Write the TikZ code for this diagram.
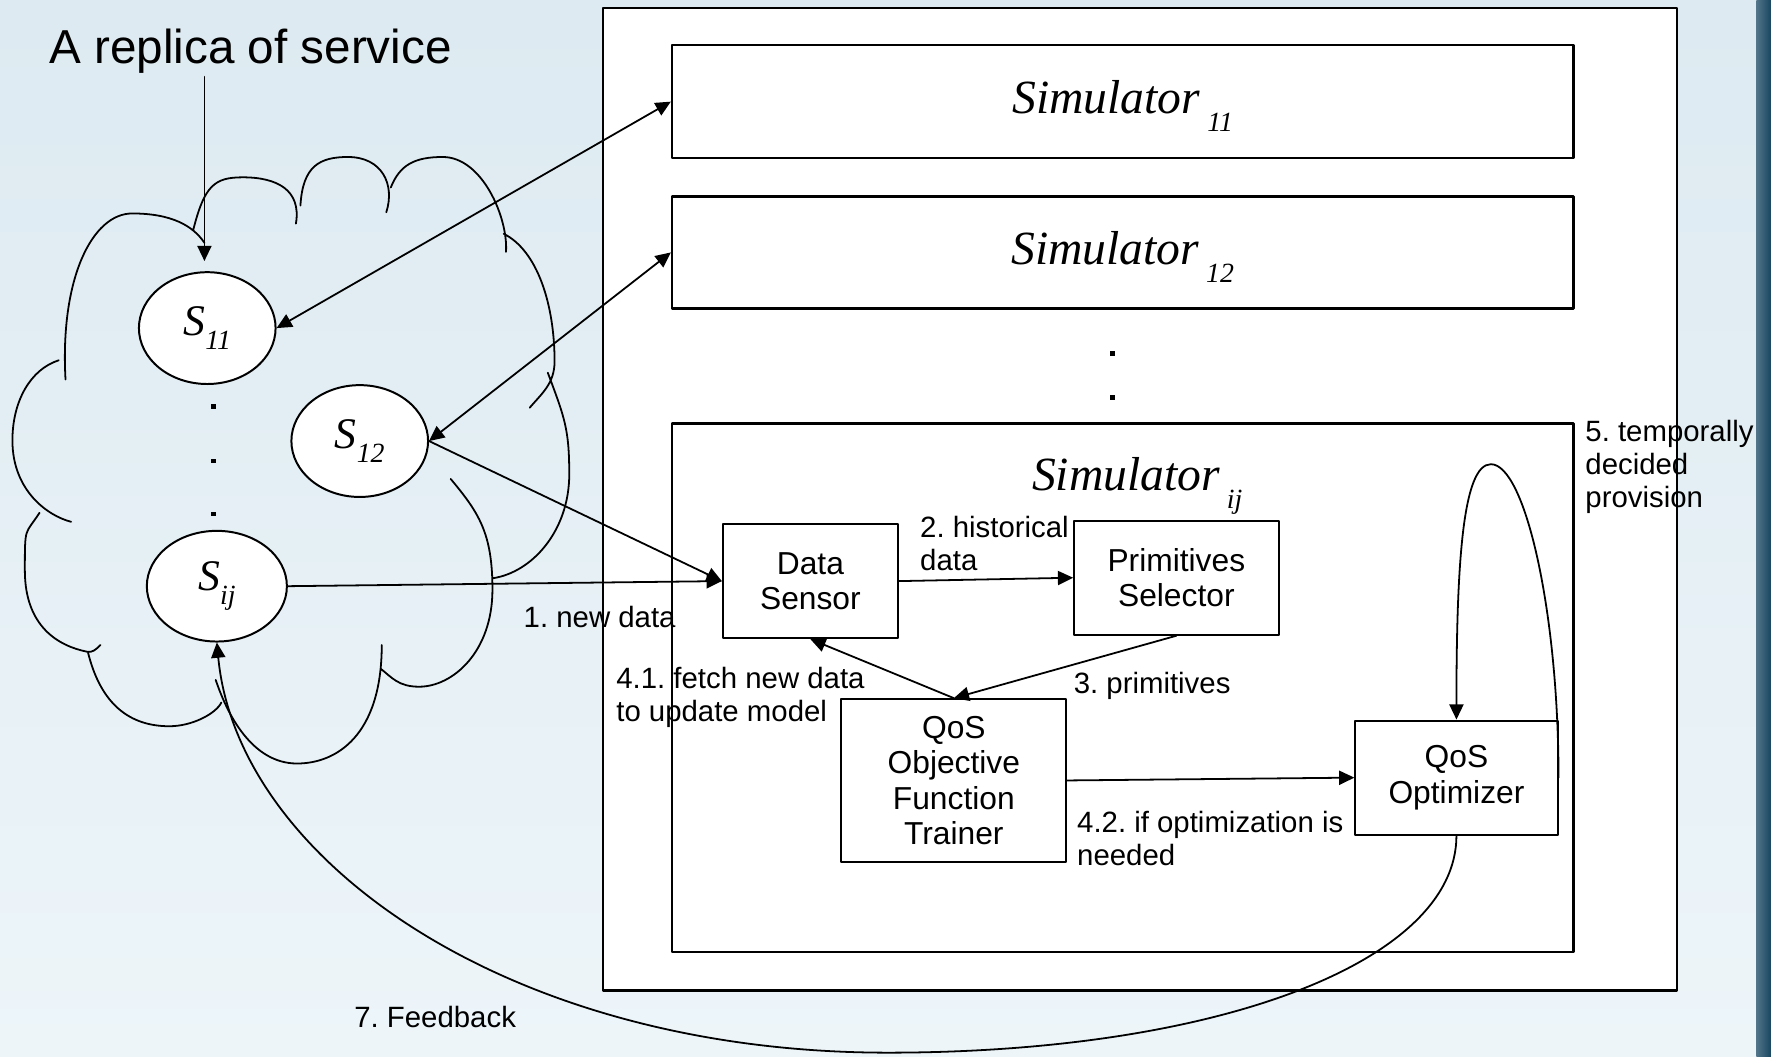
\documentclass[tikz,border=0pt]{standalone}
\usepackage{fontspec}
\setmainfont{Liberation Sans}
\newfontfamily\seriffam{Liberation Serif}
\usetikzlibrary{arrows.meta,shapes.geometric}
\frenchspacing

\definecolor{seatop}{RGB}{221,234,241}
\definecolor{seabottom}{RGB}{237,245,249}
\definecolor{edgeblue}{RGB}{24,70,97}

\newcommand{\boxfont}{\fontsize{8}{8.9}\selectfont}
\newcommand{\lblfont}{\fontsize{7.4}{8.3}\selectfont}
\newcommand{\simname}[1]{\vrule height 10.5pt width 0pt{\seriffam\itshape\fontsize{12}{14}\selectfont Simulator}\raisebox{-4.5pt}{\seriffam\itshape\fontsize{7}{8}\selectfont\ #1}}
\newcommand{\repname}[1]{{\seriffam\itshape\fontsize{11}{13}\selectfont S}\raisebox{-3.5pt}{\seriffam\itshape\fontsize{7}{8}\selectfont #1}}

\tikzset{
  simbox/.style={draw,fill=white,line width=.6pt,inner sep=0pt},
  compbox/.style={draw,fill=white,line width=.5pt,inner sep=0pt,align=center,font=\boxfont},
  replica/.style={ellipse,draw,fill=white,line width=.5pt,inner sep=0pt},
  lbl/.style={anchor=base west,align=left,inner sep=0pt,font=\lblfont},
  flow/.style={->,line width=.45pt},
  cloudline/.style={line width=.45pt}
}

\begin{document}
\begin{tikzpicture}[x=.1mm,y=-.1mm,>={Triangle[length=1.35mm,width=1.25mm]},line join=round,line cap=round]
	\useasboundingbox (0,0) rectangle (1568,935);
	% sea background
	\shade[top color=seatop,bottom color=seabottom] (0,0) rectangle (1568,935);
	\shade[left color=edgeblue!75!white,right color=edgeblue] (1555,0) rectangle (1568,935);
	% cloud of replicas
	\draw[cloudline]
	(58,336) .. controls +(-5,-90) and +(-35,0) .. (117,189) .. controls +(35,0) and +(-10,-15) .. (181,215)
	(171,204) .. controls +(10,-40) and +(-25,0) .. (215,157) .. controls +(30,0) and +(5,-30) .. (262,198)
	(266,182) .. controls +(2,-35) and +(-25,0) .. (308,139) .. controls +(30,0) and +(8,-25) .. (342,188)
	(346,166) .. controls +(8,-20) and +(-25,0) .. (392,139) .. controls +(35,0) and +(2,-30) .. (448,223)
	(446,207) .. controls +(30,15) and +(0,-50) .. (491,320) .. controls +(0,20) and +(10,-12) .. (469,361)
	(485,330) .. controls +(15,40) and +(0,-40) .. (504,420) .. controls +(0,50) and +(35,-5) .. (436,512)
	(399,424) .. controls +(25,30) and +(0,-50) .. (436,522) .. controls +(0,55) and +(30,0) .. (371,608) .. controls +(-18,0) and +(10,8) .. (337,592)
	(338,571) .. controls +(0,80) and +(35,0) .. (263,676) .. controls +(-40,0) and +(10,30) .. (191,602)
	(78,578) .. controls +(10,40) and +(-40,0) .. (150,643) .. controls +(20,0) and +(-5,10) .. (196,622)
	(35,454) .. controls +(-13,20) and +(0,-40) .. (22,505) .. controls +(0,50) and +(-25,-5) .. (77,577) .. controls +(5,1) and +(-4,4) .. (89,571)
	(52,319) .. controls +(-25,8) and +(0,-35) .. (11,390) .. controls +(0,45) and +(-20,-5) .. (63,462);
	\foreach \y in {360,408,455} \fill (187,\y-2) rectangle +(4,4);
	% simulators
	\node[simbox,minimum width=95.1mm,minimum height=87mm] (host) at (1009.5,442) {};
	\node[simbox,minimum width=79.8mm,minimum height=10mm] (sim11) at (994,90) {\simname{11}};
	\node[simbox,minimum width=79.8mm,minimum height=9.9mm] (sim12) at (994,223.5) {\simname{12}};
	\foreach \y in {313,352} \fill (983,\y-2) rectangle +(4,4);
	\node[simbox,minimum width=79.8mm,minimum height=46.8mm] (simij) at (994,609) {};
	\node[anchor=base west,inner sep=0pt] (simijname) at (913,434) {\simname{ij}};
	\node[compbox,minimum width=15.5mm,minimum height=10.1mm] (sensor) at (717.5,514.5) {Data\\Sensor};
	\node[compbox,minimum width=18.1mm,minimum height=10.1mm] (selector) at (1041.5,511.5) {Primitives\\Selector};
	\node[compbox,minimum width=19.9mm,minimum height=14.4mm] (trainer) at (844.5,691) {QoS\\Objective\\Function\\Trainer};
	\node[compbox,minimum width=17.9mm,minimum height=10.1mm] (optimizer) at (1289.5,688.5) {QoS\\Optimizer};
	% replicas
	\node[replica,minimum width=12.1mm,minimum height=9.9mm] (s11) at (183.5,290.5) {\repname{11}};
	\node[replica,minimum width=12.1mm,minimum height=9.9mm] (s12) at (318.5,390.5) {\repname{12}};
	\node[replica,minimum width=12.4mm,minimum height=9.8mm] (sij) at (192,519) {\repname{ij}};
	\node[anchor=base west,inner sep=0pt,font=\fontsize{12}{14}\selectfont] (replica) at (43,56) {A replica of service};
	\coordinate (replicafoot) at (181,68);
	% connectors
	\draw[flow] (replicafoot) -- (replicafoot |- s11.north) [shorten >=.9mm];
	\draw[flow,<->] (s11.east) -- (sim11.west);
	\draw[flow,<->] (s12.east) -- (sim12.west);
	\draw[flow] (s12.east) -- (sensor.west);
	\draw[flow] (sij.east) -- (sensor.west);
	\draw[flow] (sensor.east) -- (selector.west);
	\draw[flow] (selector.south) -- (trainer.north);
	\draw[flow] (trainer.north) -- (sensor.south);
	\draw[flow] (trainer.east) -- (optimizer.west);
	\draw[flow] (optimizer.east) .. controls +(0,-148) and +(30,0) .. (1320,411) .. controls +(-25,0) and +(0,-138) .. (optimizer.north);
	\draw[flow] (optimizer.south) .. controls +(0,111) and +(294,0) .. (786,932) .. controls +(-336,0) and +(18,192) .. (sij.south);
	% step labels (base = last line)
	\node[lbl] (lblnew) at (463,556) {1. new data};
	\node[lbl] (lblhist) at (814,505) {2. historical\\data};
	\node[lbl] (lblprim) at (950,614) {3. primitives};
	\node[lbl] (lblfetch) at (545,639) {4.1. fetch new data\\to update model};
	\node[lbl] (lblopt) at (953,766) {4.2. if optimization is\\needed};
	\node[lbl] (lbltemp) at (1403,449) {5. temporally\\decided\\provision};
	\node[lbl] (lblfeed) at (313,910) {7. Feedback};
\end{tikzpicture}
\end{document}
